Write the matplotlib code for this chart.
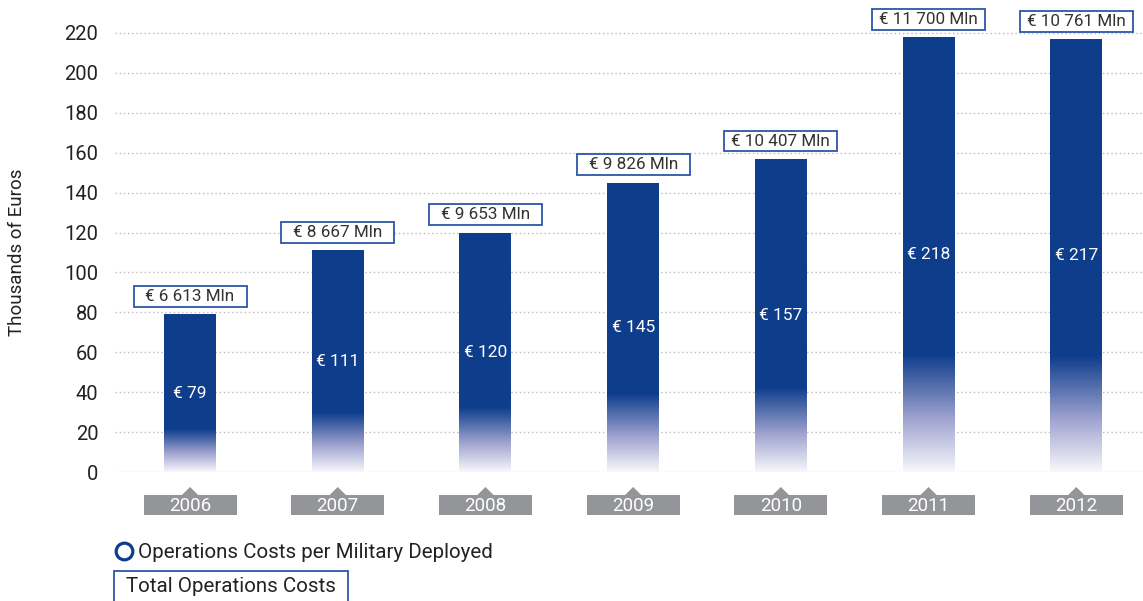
import matplotlib.pyplot as plt
import numpy as np
from matplotlib.patches import Rectangle, Polygon
from matplotlib.lines import Line2D
from matplotlib.colors import LinearSegmentedColormap
from matplotlib.transforms import blended_transform_factory

plt.rcParams['font.family'] = ['Roboto', 'DejaVu Sans']

years = ['2006', '2007', '2008', '2009', '2010', '2011', '2012']
per_military = [79, 111, 120, 145, 157, 218, 217]
total_mln = ['6 613', '8 667', '9 653', '9 826', '10 407', '11 700', '10 761']

BLUE = '#0e3d8c'
EDGE = '#2b56a6'
GREY = '#939598'

fig = plt.figure(figsize=(11.43, 6.01), dpi=100)
ax = fig.add_axes([115/1143, 1-472/601, 1-115/1143, 472/601])

cmap = LinearSegmentedColormap.from_list('fade', [(0.0, '#f7f7fb'), (0.45, '#9fa3cf'), (1.0, BLUE)])
grad = np.linspace(0, 1, 200).reshape(-1, 1)

x = np.arange(len(years))
w = 0.352
for i, v in enumerate(per_military):
    split = v * 0.27
    ax.bar(x[i], v - split, bottom=split, width=w, color=BLUE, zorder=3)
    ax.imshow(grad, cmap=cmap, origin='lower', aspect='auto', zorder=3,
              extent=[x[i]-w/2, x[i]+w/2, 0, split])
    ax.text(x[i], v/2, '€ %d' % v, color='white', ha='center', va='center',
            fontsize=12.5, zorder=4)
    bw, bh = 0.765, 10.5
    ax.add_patch(Rectangle((x[i]-bw/2, v+3.6), bw, bh, facecolor='white',
                           edgecolor=EDGE, lw=1.3, zorder=4, clip_on=False))
    ax.text(x[i], v+3.6+bh/2, '€ %s Mln' % total_mln[i], color='#333333',
            ha='center', va='center', fontsize=12.3, zorder=5, clip_on=False)

# year tags under the axis
tr = blended_transform_factory(ax.transData, ax.transAxes)
for i, yr in enumerate(years):
    tw = 0.63
    ax.add_patch(Rectangle((x[i]-tw/2, -43/472), tw, 20/472, facecolor=GREY,
                           edgecolor='none', transform=tr, clip_on=False))
    ax.add_patch(Polygon([(x[i]-0.055, -23/472), (x[i]+0.055, -23/472), (x[i], -15/472)],
                         closed=True, facecolor=GREY, edgecolor='none',
                         transform=tr, clip_on=False))
    ax.text(x[i], -34/472, yr, transform=tr, color='white', ha='center',
            va='center', fontsize=13.5, zorder=5)

ax.set_xlim(-0.508, 6.452)
ax.set_ylim(0, 236.5)
ax.set_yticks(range(0, 221, 20))
ax.set_xticks([])
ax.tick_params(axis='y', length=0, labelsize=14.5, labelcolor='#222222', pad=12)
for s in ax.spines.values():
    s.set_visible(False)
ax.grid(axis='y', color='#bbbbbb', linestyle=(0, (1, 2)), lw=1, zorder=0)
ax.set_axisbelow(True)

fig.text(17/1143, 1-252/601, 'Thousands of Euros', rotation=90, ha='center',
         va='center', fontsize=13.5, color='#222222')

# legend
fig.add_artist(Line2D([124/1143], [1-551/601], marker='o', mfc='none', mec=BLUE,
                      ms=12, mew=2.3, transform=fig.transFigure))
fig.text(138/1143, 1-552/601, 'Operations Costs per Military Deployed',
         ha='left', va='center', fontsize=14.8, color='#222222')
fig.add_artist(Rectangle((114/1143, -0.01), 234/1143, 0.01+1-571/601, facecolor='white',
                         edgecolor=EDGE, lw=1.3, transform=fig.transFigure))
fig.text(126/1143, 1-586/601, 'Total Operations Costs', ha='left', va='center',
         fontsize=14.8, color='#222222')

fig.savefig('out.png', dpi=100)
